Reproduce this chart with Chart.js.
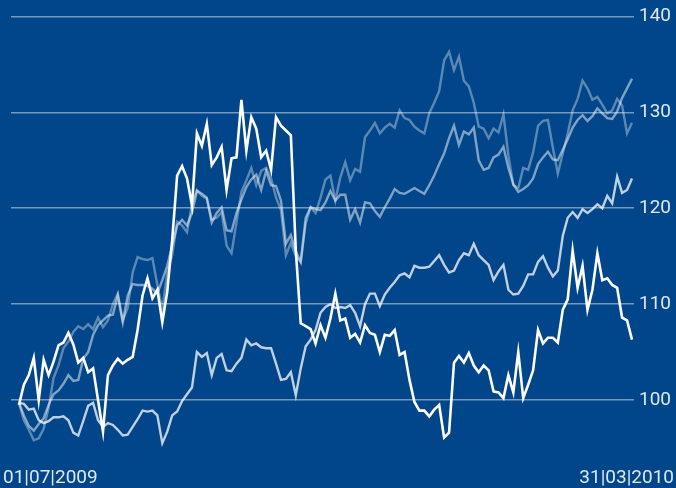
<!DOCTYPE html>
<html lang="de">

<head>
    <meta charset="UTF-8">
    <title>Indexentwicklung 01.07.2009 - 31.03.2010</title>
    <script src="https://cdn.jsdelivr.net/npm/chart.js"></script>
    <style>
        html,
        body {
            margin: 0;
            padding: 0;
            background: #01468a;
        }

        canvas {
            display: block;
        }
    </style>
</head>

<body>
    <canvas id="grafico" width="676" height="488"></canvas>

    <script>
        // Werte je Handelstag-Stichprobe (125 Punkte)
        const serieA = [
            99.5, 101.6, 102.6, 104.4, 100.0, 104.2, 102.6, 104.0, 105.7, 106.0,
            107.0, 105.8, 103.9, 104.4, 102.9, 103.3, 100.0, 96.7, 102.6, 103.6,
            104.3, 103.8, 104.2, 104.5, 107.3, 110.9, 112.7, 110.6, 111.5, 108.1,
            111.3, 116.7, 123.4, 124.4, 123.1, 120.3, 127.8, 126.5, 128.8, 124.5,
            125.3, 126.4, 121.9, 125.2, 125.3, 131.3, 126.0, 129.5, 128.3, 125.3,
            126.0, 124.0, 129.5, 128.6, 128.1, 127.6, 115.6, 108.0, 107.7, 107.4,
            105.9, 107.8, 106.5, 108.5, 111.1, 108.3, 108.5, 106.5, 106.9, 106.0,
            107.8, 107.0, 106.8, 105.0, 106.8, 106.7, 107.3, 104.7, 105.0, 102.1,
            99.8, 98.9, 98.9, 98.3, 99.0, 99.5, 96.1, 96.6, 103.9, 104.6,
            103.9, 104.9, 103.6, 102.9, 103.6, 103.1, 100.9, 100.8, 100.2, 102.6,
            100.8, 105.0, 100.2, 101.6, 103.1, 107.3, 105.9, 106.5, 106.5, 106.0,
            109.4, 110.5, 115.6, 111.7, 114.0, 109.4, 111.5, 115.3, 112.5, 112.7,
            112.0, 111.7, 108.6, 108.3, 106.3
        ];
        const serieB = [
            99.7, 99.6, 99.0, 99.1, 97.9, 97.6, 97.8, 98.2, 98.2, 98.3,
            97.9, 96.6, 96.3, 97.8, 99.4, 99.7, 97.9, 97.2, 97.6, 97.4,
            96.9, 96.3, 96.4, 97.2, 98.0, 98.9, 98.8, 98.9, 98.4, 95.5,
            96.7, 98.4, 98.8, 99.9, 100.6, 101.3, 105.0, 104.5, 104.9, 102.6,
            104.4, 104.8, 103.1, 103.0, 103.8, 104.4, 106.3, 105.7, 105.9, 105.5,
            105.4, 105.4, 103.8, 102.1, 102.2, 102.9, 100.5, 103.3, 105.6, 106.3,
            107.3, 109.1, 109.7, 110.0, 109.6, 109.7, 109.6, 109.9, 109.1, 107.7,
            110.0, 111.1, 111.1, 109.8, 111.0, 111.7, 112.3, 113.0, 113.2, 112.8,
            114.0, 113.8, 113.8, 113.9, 114.5, 115.1, 114.1, 113.3, 113.5, 114.6,
            115.3, 115.1, 116.3, 115.1, 114.6, 114.1, 112.5, 113.4, 114.1, 111.5,
            111.0, 111.1, 111.9, 113.1, 113.1, 114.4, 115.0, 113.8, 112.9, 113.5,
            117.1, 119.0, 119.6, 119.0, 119.9, 119.5, 119.9, 120.4, 120.0, 121.3,
            120.5, 123.3, 121.6, 121.9, 123.1
        ];
        const serieC = [
            99.7, 98.4, 97.3, 96.8, 97.5, 98.1, 99.5, 100.6, 101.0, 101.7,
            102.6, 102.0, 102.1, 104.3, 105.0, 106.8, 107.8, 108.3, 108.8, 108.9,
            110.9, 108.1, 110.9, 112.1, 112.0, 112.0, 111.9, 111.6, 111.1, 112.5,
            114.0, 116.1, 118.2, 118.8, 118.2, 119.5, 121.8, 121.5, 121.1, 118.5,
            119.5, 120.1, 117.7, 117.6, 119.5, 120.9, 122.2, 123.0, 123.5, 121.9,
            123.9, 122.4, 122.3, 120.8, 116.3, 117.2, 115.5, 114.4, 119.0, 120.1,
            119.9, 119.8, 120.6, 121.8, 120.8, 121.4, 121.4, 118.8, 119.9, 118.5,
            120.6, 120.5, 119.7, 119.1, 120.1, 121.0, 122.0, 121.6, 121.5, 121.8,
            122.1, 121.8, 121.5, 122.4, 123.4, 124.6, 125.7, 127.3, 128.6, 126.6,
            128.0, 127.7, 128.4, 125.0, 124.0, 124.2, 125.3, 125.6, 126.4, 124.2,
            122.5, 121.7, 122.0, 122.4, 123.1, 124.6, 125.3, 125.9, 125.1, 125.0,
            126.1, 127.2, 128.4, 129.2, 129.7, 129.1, 129.6, 130.4, 129.9, 129.4,
            129.3, 130.1, 131.5, 132.5, 133.5
        ];
        const serieD = [
            99.7, 97.9, 96.9, 95.8, 96.0, 97.0, 99.2, 102.3, 103.6, 105.4,
            106.1, 107.1, 107.7, 107.4, 107.9, 107.4, 108.6, 107.6, 108.3, 110.0,
            111.1, 108.3, 109.6, 113.3, 114.9, 114.7, 114.6, 114.8, 112.0, 109.4,
            113.3, 115.1, 118.6, 118.2, 117.5, 120.4, 121.9, 121.3, 121.0, 118.8,
            119.0, 119.6, 116.1, 115.3, 118.5, 121.7, 122.9, 124.2, 122.4, 123.9,
            124.2, 123.1, 121.1, 119.8, 115.1, 116.4, 115.0, 114.4, 118.4, 120.1,
            119.5, 121.1, 123.0, 123.4, 120.8, 123.2, 124.8, 122.9, 124.1, 123.8,
            127.4, 128.1, 128.9, 127.8, 128.4, 128.8, 128.4, 130.2, 129.4, 129.2,
            128.5, 128.1, 127.8, 129.9, 131.0, 132.2, 135.4, 136.3, 134.4, 135.8,
            133.3, 132.7, 131.0, 128.5, 128.3, 127.3, 128.3, 127.9, 129.8, 125.5,
            122.4, 122.1, 124.2, 124.0, 125.8, 128.6, 129.1, 129.2, 126.3, 123.6,
            125.7, 127.8, 130.2, 131.4, 133.3, 132.5, 131.3, 131.6, 130.8, 129.9,
            130.2, 131.4, 130.7, 127.8, 128.9
        ];

        const datumLabels = ["01|07|2009", "31|03|2010"];
        const yTicks = [100, 110, 120, 130, 140];

        const schrift = "Roboto";
        const textFarbe = "#dfe7f1";

        function punkte(werte) {
            return werte.map((v, i) => ({ x: i, y: v }));
        }

        // Datumsangaben unter dem Diagramm, links und rechts bündig
        const datumPlugin = {
            id: "datum",
            afterDraw(chart) {
                const ctx = chart.ctx;
                ctx.save();
                ctx.font = "19px " + schrift;
                ctx.fillStyle = textFarbe;
                ctx.textBaseline = "alphabetic";
                ctx.textAlign = "left";
                ctx.fillText(datumLabels[0], 3, 483);
                ctx.textAlign = "right";
                ctx.fillText(datumLabels[datumLabels.length - 1], 674, 483);
                ctx.restore();
            }
        };

        const n = serieA.length;
        const schritt = 618 / (n - 1);

        new Chart(document.getElementById("grafico"), {
            type: "line",
            data: {
                datasets: [
                    { data: punkte(serieA), borderColor: "#ffffff", borderWidth: 2.6 },
                    { data: punkte(serieB), borderColor: "rgba(255,255,255,0.75)", borderWidth: 2.4 },
                    { data: punkte(serieC), borderColor: "rgba(255,255,255,0.5)", borderWidth: 2.4 },
                    { data: punkte(serieD), borderColor: "rgba(255,255,255,0.36)", borderWidth: 2.4 }
                ]
            },
            options: {
                responsive: false,
                animation: false,
                layout: { padding: { left: 11, top: 16, right: 0, bottom: 40 } },
                elements: {
                    point: { radius: 0 },
                    line: { tension: 0, borderJoinStyle: "miter" }
                },
                plugins: {
                    legend: { display: false },
                    tooltip: { enabled: false }
                },
                scales: {
                    x: {
                        type: "linear",
                        display: false,
                        min: -8 / schritt,
                        max: (n - 1) + 2 / schritt
                    },
                    y: {
                        position: "right",
                        min: 95,
                        max: 140,
                        afterBuildTicks: function (skala) {
                            skala.ticks = yTicks.map(v => ({ value: v }));
                        },
                        border: { display: false },
                        grid: {
                            color: "rgba(255,255,255,0.45)",
                            lineWidth: 1.5,
                            drawTicks: false
                        },
                        ticks: {
                            color: textFarbe,
                            padding: 5,
                            font: { family: schrift, size: 19 }
                        }
                    }
                }
            },
            plugins: [datumPlugin]
        });
    </script>
</body>

</html>
